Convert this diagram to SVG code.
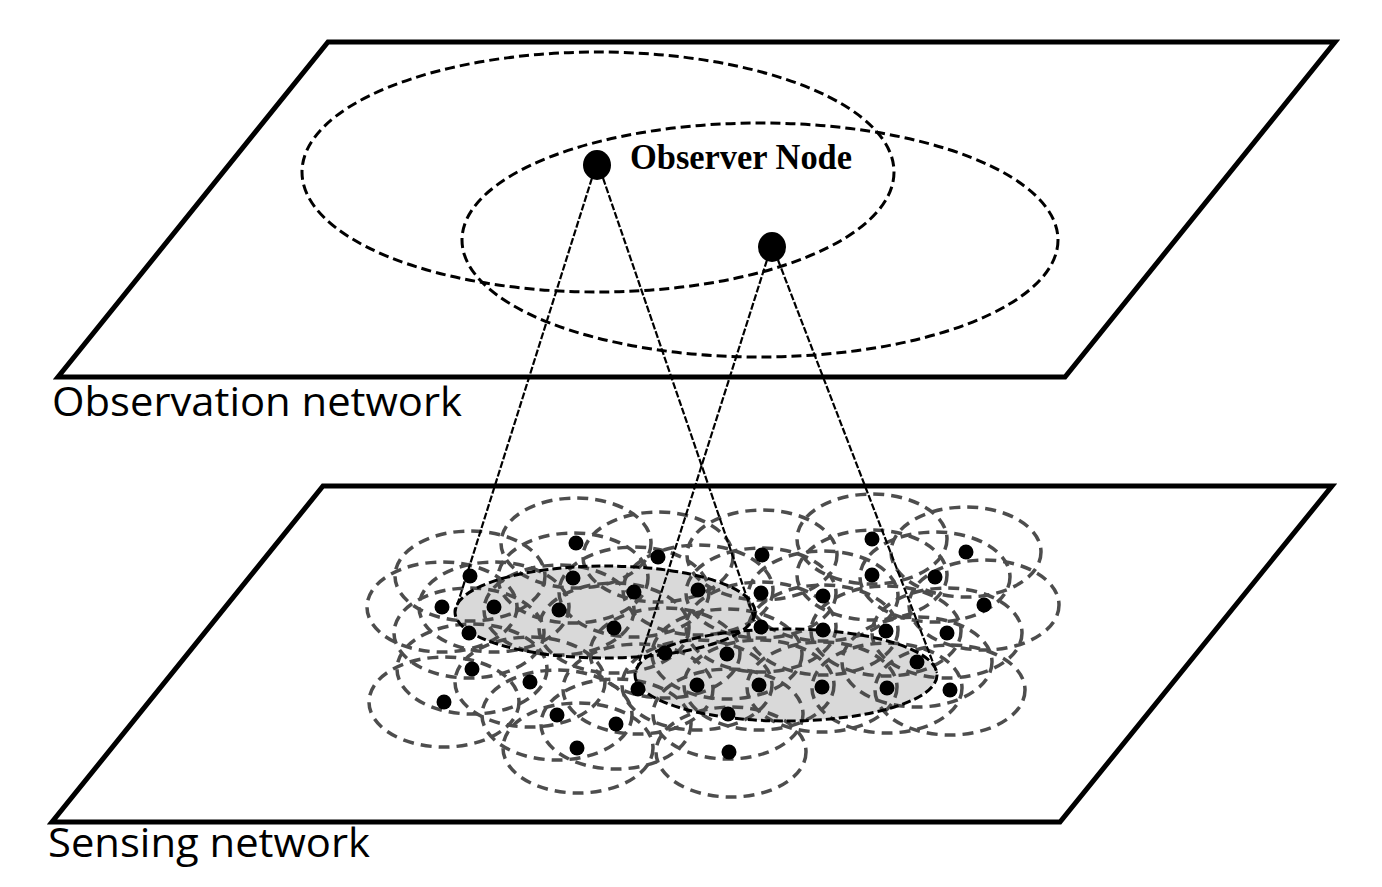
<svg xmlns="http://www.w3.org/2000/svg" width="1382" height="887" viewBox="0 0 1382 887">
<style>
.plane{fill:#fff;stroke:#000;stroke-width:5;stroke-linejoin:miter}
.range{fill:none;stroke:#000;stroke-width:3;stroke-dasharray:10 5}
.obs{fill:#000}
.label{font-family:"Open Sans","Liberation Sans",sans-serif;font-size:40px;fill:#000}
.title{font-family:"Liberation Serif",serif;font-weight:bold;font-size:35px;fill:#000}
.cluster{fill:#d9d9d9;stroke:none}
.clusterEdge{fill:none;stroke:#000;stroke-width:3;stroke-dasharray:9 4}
.ring{fill:none;stroke:#4d4d4d;stroke-width:3.5;stroke-dasharray:11 7}
.dot{fill:#000}
.link{fill:none;stroke:#000;stroke-width:2.2;stroke-dasharray:7 2}
</style>
<rect width="1382" height="887" fill="#fff"/>
<g id="observation-plane">
<polygon class="plane" points="328,42 1335,42 1065,377 58,377"/>
<text class="label" x="52" y="416" textLength="410" lengthAdjust="spacingAndGlyphs">Observation network</text>
</g>
<g id="sensing-plane">
<polygon class="plane" points="323,486 1332,486 1060,822 52,822"/>
<text class="label" x="48" y="857" textLength="322" lengthAdjust="spacingAndGlyphs">Sensing network</text>
</g>
<g id="observer-ranges">
<ellipse class="range" cx="598" cy="172" rx="296" ry="120"/>
<ellipse class="range" cx="760" cy="240" rx="298" ry="117"/>
</g>
<g id="clusters-fill">
<ellipse class="cluster" cx="605" cy="612" rx="150" ry="46"/>
<ellipse class="cluster" cx="786" cy="675" rx="151" ry="46"/>
</g>
<g id="sensor-ranges">
<ellipse class="ring" cx="576" cy="543" rx="75" ry="45"/>
<ellipse class="ring" cx="658" cy="557" rx="75" ry="45"/>
<ellipse class="ring" cx="762" cy="555" rx="75" ry="45"/>
<ellipse class="ring" cx="872" cy="539" rx="75" ry="45"/>
<ellipse class="ring" cx="966" cy="552" rx="75" ry="45"/>
<ellipse class="ring" cx="470" cy="576" rx="75" ry="45"/>
<ellipse class="ring" cx="573" cy="578" rx="75" ry="45"/>
<ellipse class="ring" cx="698" cy="590" rx="75" ry="45"/>
<ellipse class="ring" cx="761" cy="593" rx="75" ry="45"/>
<ellipse class="ring" cx="872" cy="575" rx="75" ry="45"/>
<ellipse class="ring" cx="935" cy="577" rx="75" ry="45"/>
<ellipse class="ring" cx="442" cy="607" rx="75" ry="45"/>
<ellipse class="ring" cx="494" cy="607" rx="75" ry="45"/>
<ellipse class="ring" cx="559" cy="610" rx="75" ry="45"/>
<ellipse class="ring" cx="634" cy="592" rx="75" ry="45"/>
<ellipse class="ring" cx="823" cy="596" rx="75" ry="45"/>
<ellipse class="ring" cx="984" cy="605" rx="75" ry="45"/>
<ellipse class="ring" cx="469" cy="633" rx="75" ry="45"/>
<ellipse class="ring" cx="614" cy="628" rx="75" ry="45"/>
<ellipse class="ring" cx="761" cy="627" rx="75" ry="45"/>
<ellipse class="ring" cx="823" cy="630" rx="75" ry="45"/>
<ellipse class="ring" cx="886" cy="631" rx="75" ry="45"/>
<ellipse class="ring" cx="947" cy="633" rx="75" ry="45"/>
<ellipse class="ring" cx="665" cy="653" rx="75" ry="45"/>
<ellipse class="ring" cx="727" cy="654" rx="75" ry="45"/>
<ellipse class="ring" cx="917" cy="662" rx="75" ry="45"/>
<ellipse class="ring" cx="472" cy="669" rx="75" ry="45"/>
<ellipse class="ring" cx="530" cy="682" rx="75" ry="45"/>
<ellipse class="ring" cx="638" cy="689" rx="75" ry="45"/>
<ellipse class="ring" cx="697" cy="685" rx="75" ry="45"/>
<ellipse class="ring" cx="759" cy="685" rx="75" ry="45"/>
<ellipse class="ring" cx="822" cy="687" rx="75" ry="45"/>
<ellipse class="ring" cx="887" cy="688" rx="75" ry="45"/>
<ellipse class="ring" cx="950" cy="690" rx="75" ry="45"/>
<ellipse class="ring" cx="444" cy="702" rx="75" ry="45"/>
<ellipse class="ring" cx="557" cy="715" rx="75" ry="45"/>
<ellipse class="ring" cx="616" cy="724" rx="75" ry="45"/>
<ellipse class="ring" cx="728" cy="714" rx="75" ry="45"/>
<ellipse class="ring" cx="578" cy="748" rx="75" ry="45"/>
<ellipse class="ring" cx="731" cy="752" rx="75" ry="45"/>
</g>
<g id="clusters-edge">
<ellipse class="clusterEdge" cx="605" cy="612" rx="150" ry="46"/>
<ellipse class="clusterEdge" cx="786" cy="675" rx="151" ry="46"/>
</g>
<g id="sensor-nodes">
<circle class="dot" cx="576" cy="543" r="7.5"/>
<circle class="dot" cx="658" cy="557" r="7.5"/>
<circle class="dot" cx="762" cy="555" r="7.5"/>
<circle class="dot" cx="872" cy="539" r="7.5"/>
<circle class="dot" cx="966" cy="552" r="7.5"/>
<circle class="dot" cx="470" cy="576" r="7.5"/>
<circle class="dot" cx="573" cy="578" r="7.5"/>
<circle class="dot" cx="698" cy="590" r="7.5"/>
<circle class="dot" cx="761" cy="593" r="7.5"/>
<circle class="dot" cx="872" cy="575" r="7.5"/>
<circle class="dot" cx="935" cy="577" r="7.5"/>
<circle class="dot" cx="442" cy="607" r="7.5"/>
<circle class="dot" cx="494" cy="607" r="7.5"/>
<circle class="dot" cx="559" cy="610" r="7.5"/>
<circle class="dot" cx="634" cy="592" r="7.5"/>
<circle class="dot" cx="823" cy="596" r="7.5"/>
<circle class="dot" cx="984" cy="605" r="7.5"/>
<circle class="dot" cx="469" cy="633" r="7.5"/>
<circle class="dot" cx="614" cy="628" r="7.5"/>
<circle class="dot" cx="761" cy="627" r="7.5"/>
<circle class="dot" cx="823" cy="630" r="7.5"/>
<circle class="dot" cx="886" cy="631" r="7.5"/>
<circle class="dot" cx="947" cy="633" r="7.5"/>
<circle class="dot" cx="665" cy="653" r="7.5"/>
<circle class="dot" cx="727" cy="654" r="7.5"/>
<circle class="dot" cx="917" cy="662" r="7.5"/>
<circle class="dot" cx="472" cy="669" r="7.5"/>
<circle class="dot" cx="530" cy="682" r="7.5"/>
<circle class="dot" cx="638" cy="689" r="7.5"/>
<circle class="dot" cx="697" cy="685" r="7.5"/>
<circle class="dot" cx="759" cy="685" r="7.5"/>
<circle class="dot" cx="822" cy="687" r="7.5"/>
<circle class="dot" cx="887" cy="688" r="7.5"/>
<circle class="dot" cx="950" cy="690" r="7.5"/>
<circle class="dot" cx="444" cy="702" r="7.5"/>
<circle class="dot" cx="557" cy="715" r="7.5"/>
<circle class="dot" cx="616" cy="724" r="7.5"/>
<circle class="dot" cx="728" cy="714" r="7.5"/>
<circle class="dot" cx="577" cy="748" r="7.5"/>
<circle class="dot" cx="729" cy="752" r="7.5"/>
</g>
<g id="connectors">
<line class="link" x1="592" y1="178" x2="455" y2="612"/>
<line class="link" x1="603" y1="178" x2="755" y2="621"/>
<line class="link" x1="767" y1="260" x2="636" y2="672"/>
<line class="link" x1="778" y1="260" x2="937" y2="673"/>
</g>
<g id="observer-node-1">
<ellipse class="obs" cx="597" cy="165" rx="14" ry="15"/>
<text class="title" x="630" y="169" textLength="222" lengthAdjust="spacingAndGlyphs">Observer Node</text>
</g>
<g id="observer-node-2">
<ellipse class="obs" cx="772" cy="247" rx="14" ry="15"/>
</g>
</svg>
